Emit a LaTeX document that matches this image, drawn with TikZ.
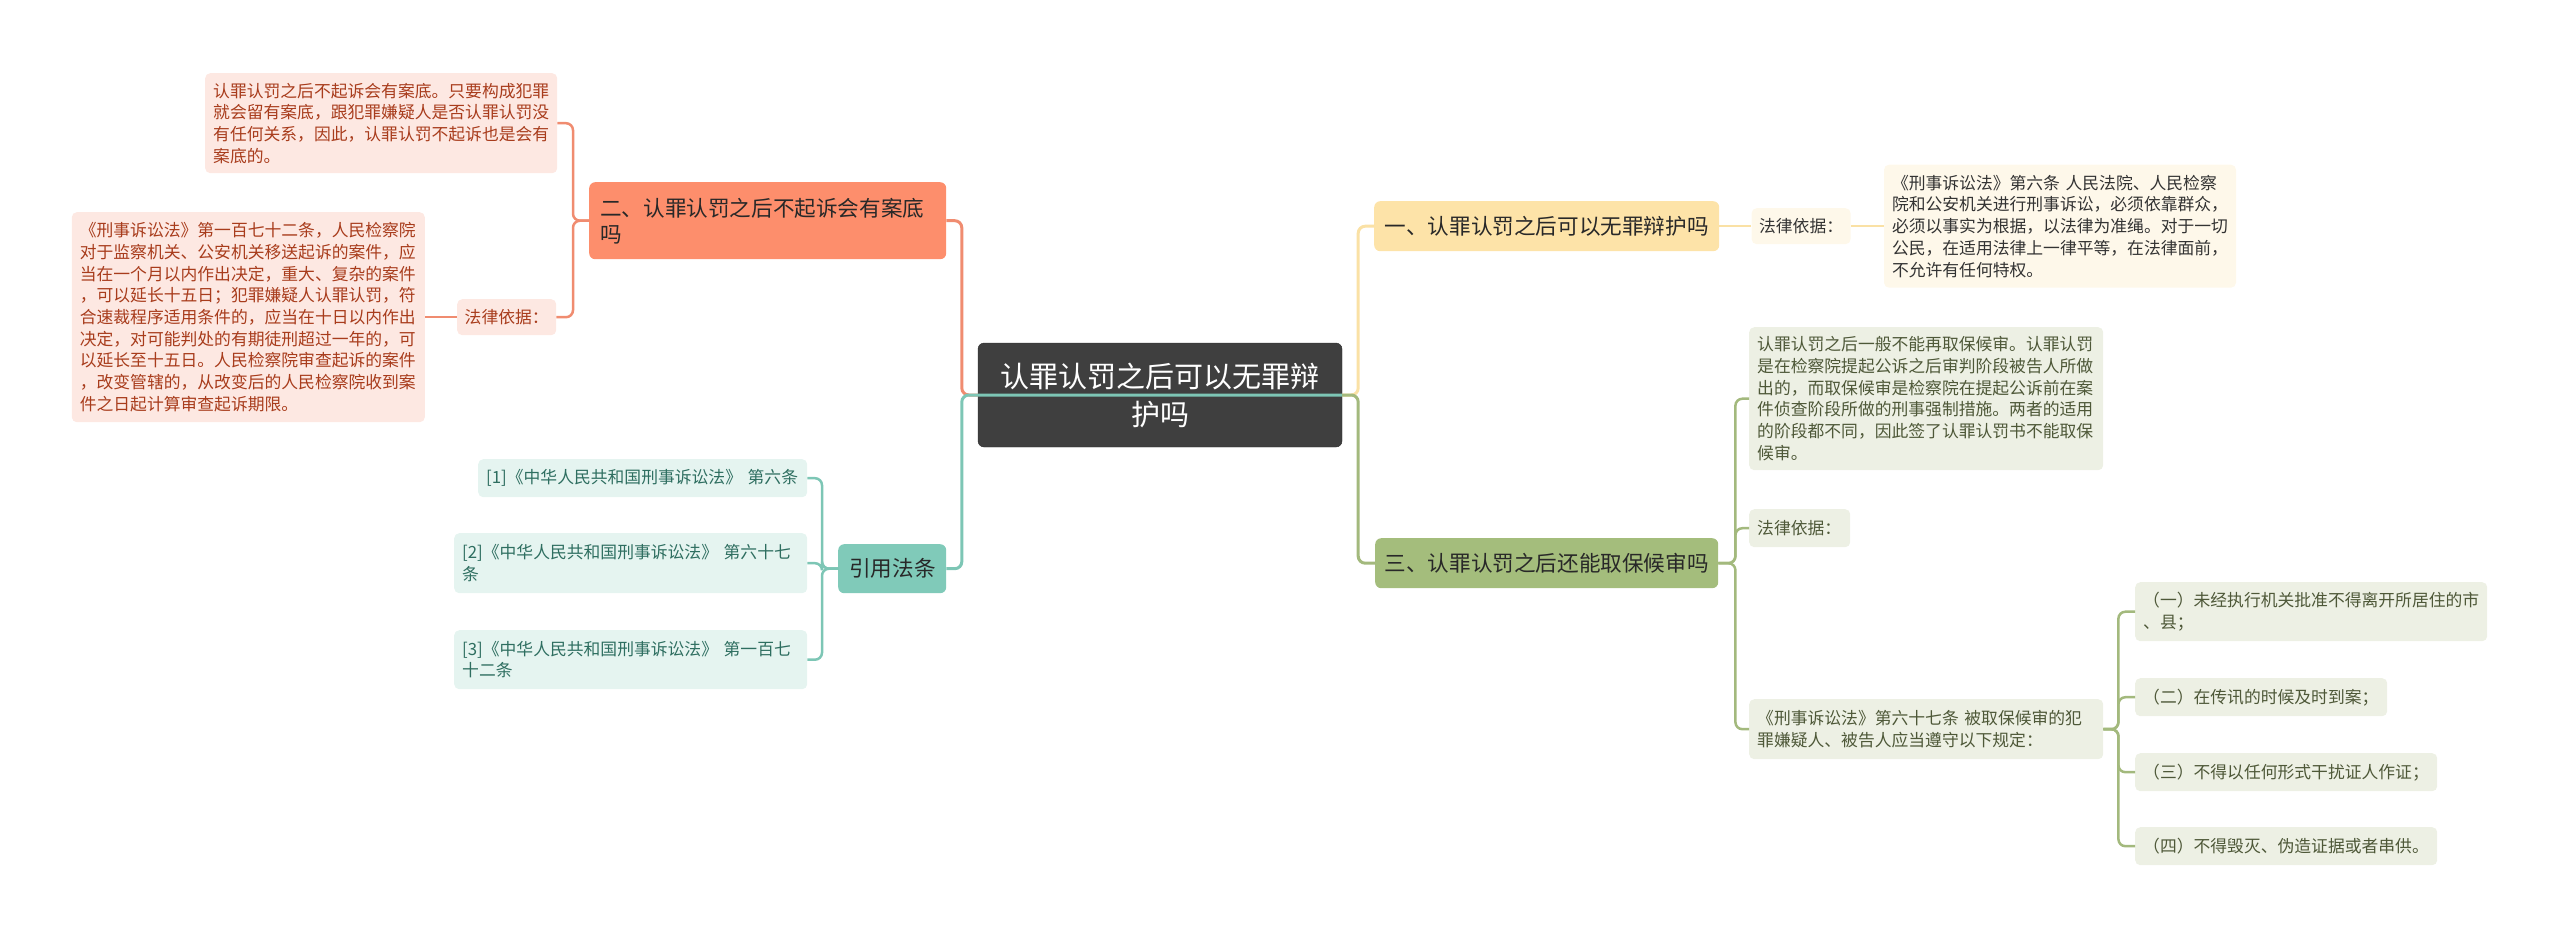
\documentclass[tikz,border=0pt]{standalone}
\usepackage{fontspec}
\setmainfont{Noto Sans CJK SC}
\usepackage{tikz}
\usepackage{xcolor}
\usetikzlibrary{positioning}
\definecolor{rootfill}{RGB}{63, 63, 63}
\definecolor{rootline}{RGB}{45, 45, 45}
\definecolor{topictext}{RGB}{40, 40, 40}
\definecolor{salmonfill}{RGB}{253, 142, 108}
\definecolor{salmonline}{RGB}{240, 140, 112}
\definecolor{salmonlight}{RGB}{253, 232, 226}
\definecolor{salmontext}{RGB}{168, 60, 28}
\definecolor{tealfill}{RGB}{128, 202, 185}
\definecolor{tealline}{RGB}{125, 198, 181}
\definecolor{teallight}{RGB}{229, 244, 240}
\definecolor{tealtext}{RGB}{46, 110, 96}
\definecolor{yellowfill}{RGB}{253, 227, 168}
\definecolor{yellowline}{RGB}{250, 225, 165}
\definecolor{yellowlight}{RGB}{254, 248, 234}
\definecolor{yellowtext}{RGB}{51, 51, 51}
\definecolor{greenfill}{RGB}{164, 189, 124}
\definecolor{greenline}{RGB}{163, 185, 125}
\definecolor{greenlight}{RGB}{237, 240, 228}
\definecolor{greentext}{RGB}{78, 88, 56}
\tikzstyle{rootbox} = [
    rectangle,
    rounded corners=6pt,
    fill=rootfill,
    draw=rootline,
    text=white,
    align=center,
    text width=330pt,
    inner xsep=17pt,
    minimum height=104pt,
    font=\fontsize{29}{38}\selectfont
]
\tikzstyle{topic} = [
    rectangle,
    rounded corners=6pt,
    align=left,
    inner xsep=11pt,
    inner ysep=4pt,
    text=topictext,
    font=\fontsize{21.6}{26}\selectfont
]
\tikzstyle{leaf} = [
    rectangle,
    rounded corners=5pt,
    align=left,
    inner xsep=8pt,
    inner ysep=4pt,
    font=\fontsize{16.8}{21.7}\selectfont
]
\tikzstyle{link} = [
    line width=3pt,
    rounded corners=7pt
]
\tikzstyle{sublink} = [
    line width=2.5pt,
    rounded corners=7pt
]

\begin{document}
\begin{tikzpicture}[x=1pt, y=-1pt]
        \useasboundingbox (0,0) rectangle (2560,937);
        \node[rootbox] (root) at (1160,395) {认罪认罚之后可以无罪辩\\护吗};

        % left: 二
        \node[topic, fill=salmonfill, anchor=north west, text width=335pt, minimum height=77pt] (q2) at (589,182)
            {二、认罪认罚之后不起诉会有案底\\吗};
        \node[leaf, fill=salmonlight, text=salmontext, anchor=north west, text width=336pt, minimum height=100pt] (a2) at (205,73)
            {认罪认罚之后不起诉会有案底。只要构成犯罪\\就会留有案底，跟犯罪嫌疑人是否认罪认罚没\\有任何关系，因此，认罪认罚不起诉也是会有\\案底的。};
        \node[leaf, fill=salmonlight, text=salmontext, anchor=north west, text width=84pt, inner xsep=7.5pt, minimum height=36pt] (law2) at (457,299)
            {法律依据：};
        \node[leaf, fill=salmonlight, text=salmontext, left=32pt of law2, text width=337pt, minimum height=210pt] (a2b)
            {《刑事诉讼法》第一百七十二条，人民检察院\\对于监察机关、公安机关移送起诉的案件，应\\当在一个月以内作出决定，重大、复杂的案件\\，可以延长十五日；犯罪嫌疑人认罪认罚，符\\合速裁程序适用条件的，应当在十日以内作出\\决定，对可能判处的有期徒刑超过一年的，可\\以延长至十五日。人民检察院审查起诉的案件\\，改变管辖的，从改变后的人民检察院收到案\\件之日起计算审查起诉期限。};

        % left: 引用法条
        \node[topic, fill=tealfill, anchor=north west, align=center, text width=86pt, minimum height=49pt] (ref) at (838,544) {引用法条};
        \node[leaf, fill=teallight, text=tealtext, anchor=north west, text width=313pt, minimum height=38pt] (ref1) at (478,459)
            {[1]《中华人民共和国刑事诉讼法》 第六条};
        \node[leaf, fill=teallight, text=tealtext, anchor=north west, text width=337pt, minimum height=60pt] (ref2) at (454,533)
            {[2]《中华人民共和国刑事诉讼法》 第六十七\\条};
        \node[leaf, fill=teallight, text=tealtext, anchor=north west, text width=337pt, minimum height=59pt] (ref3) at (454,630)
            {[3]《中华人民共和国刑事诉讼法》 第一百七\\十二条};

        % right: 一
        \node[topic, fill=yellowfill, anchor=north west, text width=324pt, inner xsep=10.5pt, minimum height=50pt] (q1) at (1374,201)
            {一、认罪认罚之后可以无罪辩护吗};
        \node[leaf, fill=yellowlight, text=yellowtext, right=32pt of q1, text width=84pt, inner xsep=7.5pt, minimum height=36pt] (law1)
            {法律依据：};
        \node[leaf, fill=yellowlight, text=yellowtext, right=33pt of law1, text width=336pt, minimum height=123pt] (a1)
            {《刑事诉讼法》第六条 人民法院、人民检察\\院和公安机关进行刑事诉讼，必须依靠群众，\\必须以事实为根据，以法律为准绳。对于一切\\公民，在适用法律上一律平等，在法律面前，\\不允许有任何特权。};

        % right: 三
        \node[topic, fill=greenfill, anchor=north west, text width=324pt, inner xsep=9.5pt, minimum height=50pt] (q3) at (1375,538)
            {三、认罪认罚之后还能取保候审吗};
        \node[leaf, fill=greenlight, text=greentext, anchor=north west, text width=338pt, minimum height=143pt] (a3) at (1749,327)
            {认罪认罚之后一般不能再取保候审。认罪认罚\\是在检察院提起公诉之后审判阶段被告人所做\\出的，而取保候审是检察院在提起公诉前在案\\件侦查阶段所做的刑事强制措施。两者的适用\\的阶段都不同，因此签了认罪认罚书不能取保\\候审。};
        \node[leaf, fill=greenlight, text=greentext, anchor=north west, text width=85pt, minimum height=38pt] (law3) at (1749,509)
            {法律依据：};
        \node[leaf, fill=greenlight, text=greentext, anchor=north west, text width=338pt, minimum height=60pt] (a3b) at (1749,699)
            {《刑事诉讼法》第六十七条 被取保候审的犯\\罪嫌疑人、被告人应当遵守以下规定：};
        \node[leaf, fill=greenlight, text=greentext, anchor=north west, text width=336pt, minimum height=59pt] (i1) at (2135,582)
            {（一）未经执行机关批准不得离开所居住的市\\、县；};
        \node[leaf, fill=greenlight, text=greentext, anchor=north west, text width=236pt, minimum height=38pt] (i2) at (2135,678)
            {（二）在传讯的时候及时到案；};
        \node[leaf, fill=greenlight, text=greentext, anchor=north west, text width=286pt, minimum height=38pt] (i3) at (2135,753)
            {（三）不得以任何形式干扰证人作证；};
        \node[leaf, fill=greenlight, text=greentext, anchor=north west, text width=286pt, minimum height=38pt] (i4) at (2135,827)
            {（四）不得毁灭、伪造证据或者串供。};

        % connectors
        \draw[link, draw=salmonline] (root.west) -- ++(-16,0) |- (q2.east);
        \draw[link, draw=yellowline] (root.east) -- ++(16,0) |- (q1.west);
        \draw[link, draw=greenline] (root.east) -- ++(16,0) |- (q3.west);
        \draw[link, draw=tealline] (root.east) -- (root.west) -- ++(-16,0) |- (ref.east);

        \draw[sublink, draw=salmonline] (q2.west) -- ++(-16,0) |- (a2.east);
        \draw[sublink, draw=salmonline] (q2.west) -- ++(-16,0) |- (law2.east);
        \draw[sublink, draw=salmonline] (law2) -- (a2b);
        \foreach \r in {ref1,ref2,ref3}
            \draw[sublink, draw=tealline] (ref.west) -- ++(-16,0) |- (\r.east);
        \draw[sublink, draw=yellowline] (q1) -- (law1);
        \draw[sublink, draw=yellowline] (law1) -- (a1);
        \foreach \r in {a3,law3,a3b}
            \draw[sublink, draw=greenline] (q3.east) -- ++(17,0) |- (\r.west);
        \foreach \r in {i1,i2,i3,i4}
            \draw[sublink, draw=greenline] (a3b.east) -- ++(15,0) |- (\r.west);
    \end{tikzpicture}
\end{document}
